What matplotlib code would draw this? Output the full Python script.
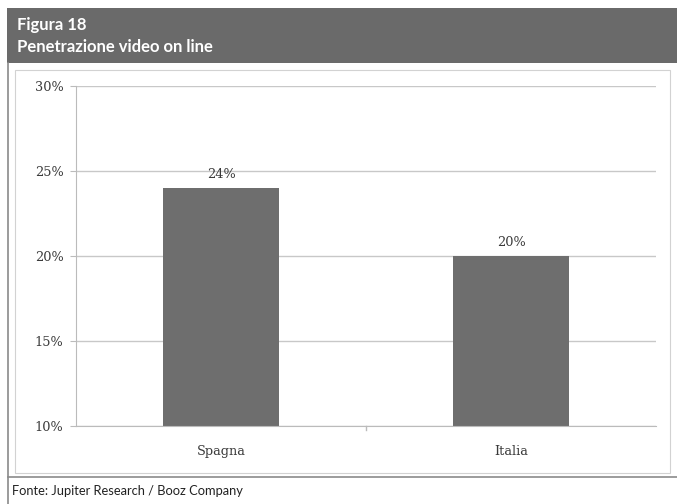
#!/usr/bin/env python3
import matplotlib
matplotlib.use("Agg")
import matplotlib.pyplot as plt
from matplotlib.patches import Rectangle
from matplotlib.lines import Line2D

categories = ["Spagna", "Italia"]
values = [24, 20]
yticks = [10, 15, 20, 25, 30]

W, H = 677, 504
fig = plt.figure(figsize=(W / 100, H / 100), dpi=100)
fig.patch.set_facecolor("white")

sans = ["Lato", "Open Sans"]
serif = ["DejaVu Serif"]


def fx(px):
    return px / W


def fy(py):
    return 1 - py / H


# header band
fig.patches.append(Rectangle((fx(7), fy(63)), fx(677) - fx(7), fy(8) - fy(63),
                             transform=fig.transFigure, facecolor="#6a6a6a", edgecolor="none"))
fig.text(fx(17), fy(25), "Figura 18", color="white", fontsize=12, fontweight="bold",
         family=sans, va="center", ha="left")
fig.text(fx(17), fy(47), "Penetrazione video on line", color="white", fontsize=12,
         fontweight="bold", family=sans, va="center", ha="left")

# outer frame lines
fig.lines.append(Line2D([fx(8), fx(8)], [fy(63), fy(504)], transform=fig.transFigure,
                        color="#8a8a8a", lw=1.2))
fig.lines.append(Line2D([fx(8), fx(677)], [fy(477), fy(477)], transform=fig.transFigure,
                        color="#8a8a8a", lw=1.2))
# inner box
fig.patches.append(Rectangle((fx(15), fy(473)), fx(670) - fx(15), fy(70) - fy(473),
                             transform=fig.transFigure, facecolor="none",
                             edgecolor="#d2d2d2", lw=0.8))

fig.text(fx(12), fy(491), "Fonte: Jupiter Research / Booz Company", color="#222222",
         fontsize=9.3, family=sans, va="center", ha="left")

ax = fig.add_axes([fx(76), fy(426), fx(656) - fx(76), fy(86) - fy(426)])
x = list(range(len(categories)))
ax.bar(x, values, width=0.4, color="#6e6e6e", zorder=3)
for xi, v in zip(x, values):
    ax.text(xi, v + 0.4, f"{v}%", ha="center", va="bottom", fontsize=9.3,
            family=serif, color="#3a3a3a")

ax.set_xlim(-0.5, len(categories) - 0.5)
ax.set_ylim(10, 30)
ax.set_yticks(yticks)
ax.set_yticklabels([f"{t}%" for t in yticks], family=serif, fontsize=9.3,
                   color="#3a3a3a")
ax.set_xticks(x)
ax.set_xticklabels(categories, family=serif, fontsize=9.3, color="#3a3a3a")
ax.tick_params(axis="x", length=0, pad=14)
ax.tick_params(axis="y", length=4, color="#bbbbbb", pad=5)
ax.yaxis.grid(True, color="#c8c8c8", lw=1, zorder=0)
for s in ["top", "right"]:
    ax.spines[s].set_visible(False)
ax.spines["left"].set_color("#bbbbbb")
ax.spines["bottom"].set_color("#bbbbbb")
ax.spines["bottom"].set_zorder(4)
# small middle tick on x axis
ax.axvline(0.5, ymin=-0.012, ymax=0, color="#bbbbbb", lw=1, clip_on=False)

fig.savefig("out.png", dpi=100)
